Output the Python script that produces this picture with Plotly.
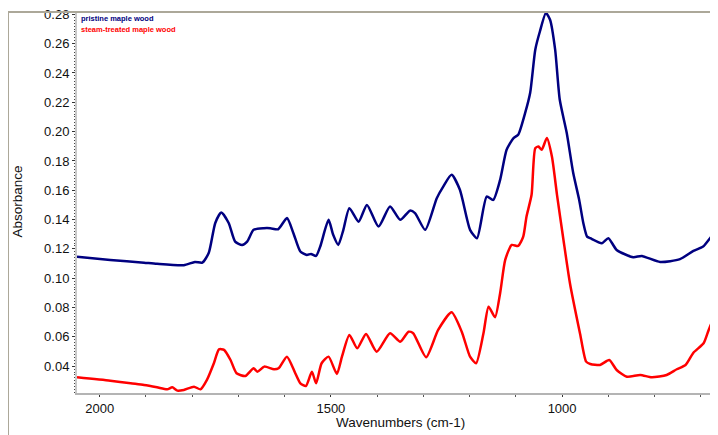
import plotly.graph_objects as go

# wavenumber (cm-1) / absorbance
pristine_wn = [2049, 1977, 1904, 1876, 1818, 1794, 1778, 1764, 1750, 1737, 1721, 1707,
               1692, 1681, 1667, 1645, 1631, 1614, 1595, 1581, 1566, 1552, 1543, 1532,
               1523, 1505, 1495, 1484, 1473, 1460, 1440, 1422, 1397, 1372, 1350, 1329,
               1318, 1296, 1271, 1257, 1239, 1221, 1199, 1184, 1163, 1149, 1134, 1120,
               1105, 1095, 1080, 1069, 1058, 1048, 1035, 1026, 1015, 1005, 990, 976,
               963, 954, 946, 939, 914, 900, 882, 846, 828, 788, 745, 716, 695, 671, 665]
pristine_abs = [0.1147, 0.1125, 0.1106, 0.1098, 0.1089, 0.1111, 0.1106, 0.1173, 0.1377,
                0.1448, 0.1377, 0.1250, 0.1227, 0.1250, 0.1330, 0.1341, 0.1341, 0.1334,
                0.1410, 0.1307, 0.1182, 0.1159, 0.1166, 0.1152, 0.1216, 0.1398, 0.1296,
                0.1227, 0.1330, 0.1478, 0.1386, 0.1500, 0.1352, 0.1489, 0.1398, 0.1461,
                0.1444, 0.1330, 0.1546, 0.1625, 0.1705, 0.1603, 0.1330, 0.1273, 0.1557,
                0.1534, 0.1671, 0.1876, 0.1956, 0.1978, 0.2126, 0.2265, 0.2559, 0.2683,
                0.2809, 0.2763, 0.2559, 0.2217, 0.1992, 0.1719, 0.1534, 0.1375, 0.1284,
                0.1273, 0.1239, 0.1273, 0.1193, 0.1143, 0.1152, 0.1111, 0.1130, 0.1186,
                0.1216, 0.1307, 0.1309]

steamed_wn = [2049, 1977, 1933, 1904, 1876, 1854, 1843, 1832, 1818, 1796, 1782, 1768,
              1753, 1742, 1731, 1717, 1704, 1685, 1667, 1659, 1644, 1623, 1613, 1595,
              1577, 1566, 1554, 1541, 1532, 1520, 1505, 1487, 1476, 1460, 1443, 1424,
              1401, 1372, 1350, 1332, 1322, 1294, 1268, 1239, 1217, 1199, 1186, 1170,
              1159, 1145, 1134, 1123, 1109, 1095, 1084, 1077, 1066, 1058, 1051, 1044,
              1033, 1022, 1011, 997, 983, 961, 948, 939, 918, 898, 882, 860, 831, 806,
              774, 752, 733, 716, 694, 683, 673, 665]
steamed_abs = [0.0324, 0.0301, 0.0283, 0.0272, 0.0256, 0.0242, 0.0256, 0.0233, 0.0238,
               0.0260, 0.0242, 0.0306, 0.0420, 0.0515, 0.0511, 0.0442, 0.0352, 0.0333,
               0.0386, 0.0362, 0.0397, 0.0379, 0.0386, 0.0465, 0.0352, 0.0283, 0.0265,
               0.0362, 0.0283, 0.0420, 0.0465, 0.0347, 0.0465, 0.0613, 0.0522, 0.0620,
               0.0499, 0.0625, 0.0567, 0.0635, 0.0625, 0.0461, 0.0647, 0.0767, 0.0635,
               0.0465, 0.0420, 0.0625, 0.0806, 0.0734, 0.0898, 0.1125, 0.1227, 0.1220,
               0.1284, 0.1420, 0.1569, 0.1887, 0.1898, 0.1876, 0.1956, 0.1830, 0.1569,
               0.1261, 0.0966, 0.0620, 0.0431, 0.0415, 0.0408, 0.0442, 0.0374, 0.0328,
               0.0340, 0.0324, 0.0340, 0.0379, 0.0408, 0.0492, 0.0556, 0.0647, 0.0715,
               0.0647]

y_ticks = [0.04, 0.06, 0.08, 0.10, 0.12, 0.14, 0.16, 0.18, 0.20, 0.22, 0.24, 0.26, 0.28]
x_ticks = [2000, 1500, 1000]

navy = '#000080'
red = '#FF0000'
frame = '#ACA899'

fig = go.Figure()
fig.add_trace(go.Scatter(x=pristine_wn, y=pristine_abs, mode='lines', name='pristine maple wood',
                         line=dict(color=navy, width=2.5, shape='spline', smoothing=0.6)))
fig.add_trace(go.Scatter(x=steamed_wn, y=steamed_abs, mode='lines', name='steam-treated maple wood',
                         line=dict(color=red, width=2.5, shape='spline', smoothing=0.6)))

# page body has an 8px margin, so the figure is sized/offset to land the plot at the same pixels
fig.update_layout(
    width=710, height=427,
    margin=dict(l=69, r=1, t=4, b=42, autoexpand=False),
    paper_bgcolor='white', plot_bgcolor='white',
    showlegend=False,
    font=dict(family='Liberation Sans, Arial, sans-serif', size=13, color='#111111'),
)

fig.update_xaxes(
    range=[2049, 665], showgrid=False, zeroline=False, automargin=False,
    tickvals=x_ticks, ticks='outside', ticklen=2, tickcolor='#333333',
    showline=True, linecolor='#B4B4B4', linewidth=2,
    minor=dict(dtick=100, ticks='outside', ticklen=2, tickcolor='#555555'),
    tickfont=dict(size=13),
)
fig.update_yaxes(
    range=[0.0217, 0.2816], showgrid=False, zeroline=False, automargin=False,
    tickvals=y_ticks, tickformat='.2f', ticks='outside', ticklen=3, tickcolor='#333333',
    ticklabeloverflow='allow',
    showline=True, linecolor='#C8C8C8', linewidth=2,
    minor=dict(dtick=0.002, ticks='outside', ticklen=1, tickcolor='#444444'),
    tickfont=dict(size=13),
)

# outer frame lines
fig.add_shape(type='line', xref='paper', yref='paper', x0=-0.1078, x1=1.0, y0=1.0, y1=1.0,
              line=dict(color=frame, width=2))
fig.add_shape(type='line', xref='paper', yref='paper', x0=-0.1078, x1=-0.1078, y0=1.0, y1=-0.13,
              line=dict(color=frame, width=2))

# axis titles
fig.add_annotation(text='Absorbance', xref='paper', yref='paper', x=-0.0922, y=0.5026,
                   xanchor='center', yanchor='middle',
                   textangle=-90, showarrow=False, font=dict(size=13.5, color='#111111'))
fig.add_annotation(text='Wavenumbers (cm-1)', xref='paper', yref='paper', x=0.506, y=-0.0787,
                   xanchor='center', yanchor='middle',
                   showarrow=False, font=dict(size=13.5, color='#111111'))

# in-plot legend labels
fig.add_annotation(text='<b>pristine maple wood</b>', xref='paper', yref='paper', x=0, y=0.9824,
                   xanchor='left', yanchor='middle', xshift=2, showarrow=False,
                   font=dict(size=7.5, color=navy))
fig.add_annotation(text='<b>steam-treated maple wood</b>', xref='paper', yref='paper', x=0, y=0.9535,
                   xanchor='left', yanchor='middle', xshift=2, showarrow=False,
                   font=dict(size=7.5, color=red))

fig.write_html('out.html')
